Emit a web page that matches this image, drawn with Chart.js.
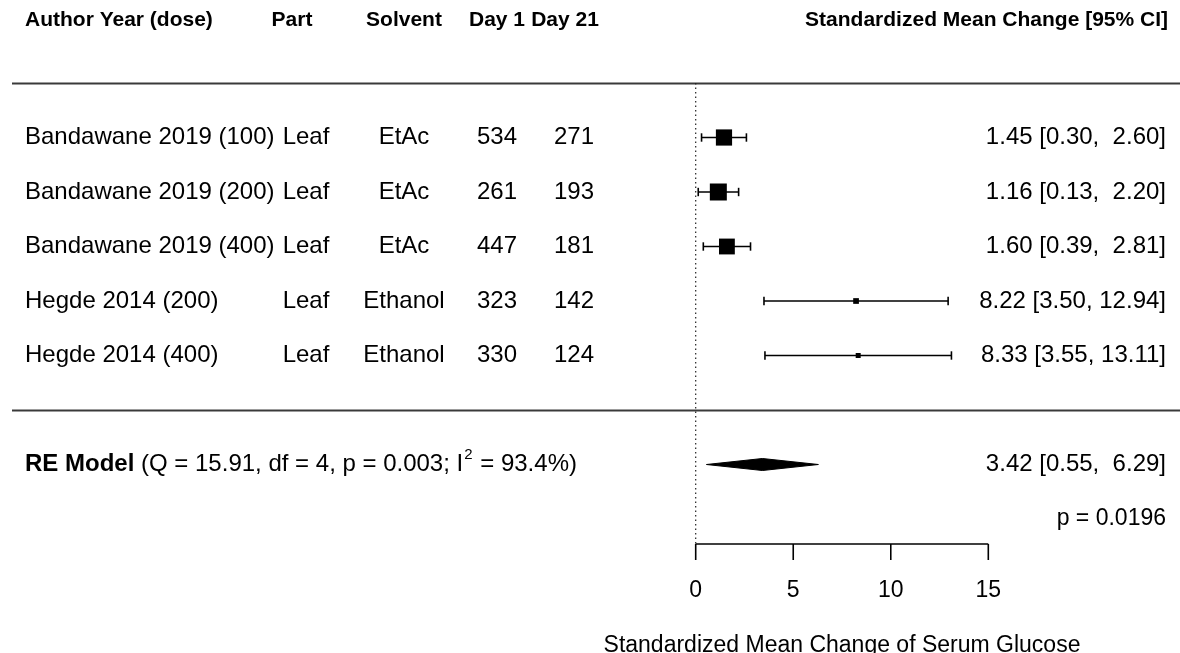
<!DOCTYPE html>
<html><head><meta charset="utf-8">
<script src="https://cdn.jsdelivr.net/npm/chart.js@4.4.0/dist/chart.umd.min.js"></script>
<style>html,body{margin:0;padding:0;background:#fff;overflow:hidden}#wrap{width:1180px;height:653px;position:relative}</style>
</head><body><div id="wrap"><canvas id="c" width="1180" height="653"></canvas></div>
<script>
// ---- data ----
const studies = ["Bandawane 2019 (100)", "Bandawane 2019 (200)", "Bandawane 2019 (400)", "Hegde 2014 (200)", "Hegde 2014 (400)"];
const parts = ["Leaf", "Leaf", "Leaf", "Leaf", "Leaf"];
const solvents = ["EtAc", "EtAc", "EtAc", "Ethanol", "Ethanol"];
const day1 = [534, 261, 447, 323, 330];
const day21 = [271, 193, 181, 142, 124];
const estimates = [1.45, 1.16, 1.60, 8.22, 8.33];
const ciLower = [0.30, 0.13, 0.39, 3.50, 3.55];
const ciUpper = [2.60, 2.20, 2.81, 12.94, 13.11];
const rows = [5, 4, 3, 2, 1];
const reEstimate = 3.42, reLower = 0.55, reUpper = 6.29;
const reQ = "15.91", reDf = "4", reP = "0.003", reI2 = "93.4%";
const pValueLabel = "p = 0.0196";
const xTicks = [0, 5, 10, 15];
const headerLabels = ["Author Year (dose)", "Part", "Solvent", "Day 1", "Day 21", "Standardized Mean Change [95% CI]"];
const xAxisTitle = "Standardized Mean Change of Serum Glucose";

// ---- layout constants ----
const X0PX = 695.7, PXU = 19.507, W = 1180, H = 653;
const Y0PX = 410, PXR = 54.5;
const xMin = -X0PX / PXU, xMax = (W - X0PX) / PXU;
const yMax = Y0PX / PXR, yMin = (Y0PX - H) / PXR;
const FONT = "'Liberation Sans', Arial, Helvetica, sans-serif";
const fmt = v => v.toFixed(2);

// box sizes from inverse standard errors (metafor-style psize)
const se = ciUpper.map((u, i) => (u - ciLower[i]) / 3.92);
const wi = se.map(s => 1 / s);
const wMin = Math.min(...wi), wMax = Math.max(...wi);
const psize = wi.map(w => 0.5 + (w - wMin) / (wMax - wMin));
const boxSide = psize.map(p => 5 + 12 * Math.pow((p - 0.5), 0.5));

const datasets = [];
// reference line at 0
datasets.push({
  data: [{x: 0, y: 6}, {x: 0, y: -2.45}], showLine: true, borderColor: '#222', borderWidth: 1.2,
  borderDash: [1.5, 3], pointRadius: 0, order: 5
});
// CI whiskers
rows.forEach((r, i) => {
  datasets.push({
    data: [{x: ciLower[i], y: r}, {x: ciUpper[i], y: r}], showLine: true,
    borderColor: '#000', borderWidth: 1.6, pointStyle: 'line', rotation: 90,
    pointRadius: 4.2, pointBorderColor: '#000', pointBorderWidth: 1.6, order: 3
  });
});
// point estimates
datasets.push({
  data: rows.map((r, i) => ({x: estimates[i], y: r})), showLine: false,
  pointStyle: 'rect', pointRadius: boxSide.map(s => s / (2 * Math.SQRT1_2)),
  backgroundColor: '#000', borderColor: '#000', borderWidth: 0, order: 1
});
// RE diamond
const dh = 6 / PXR;
datasets.push({
  data: [{x: reLower, y: -1}, {x: reEstimate, y: -1 + dh}, {x: reUpper, y: -1}, {x: reEstimate, y: -1 - dh}, {x: reLower, y: -1}],
  showLine: true, fill: 'shape', backgroundColor: '#000', borderColor: '#000', borderWidth: 1,
  pointRadius: 0, tension: 0, order: 2
});

const forestPlugin = {
  id: 'forest',
  beforeDatasetsDraw(chart) {
    const ctx = chart.ctx, ys = chart.scales.y;
    ctx.save();
    ctx.strokeStyle = '#3a3a3a'; ctx.lineWidth = 2;
    [6, 0].forEach(r => {
      const y = Math.round(ys.getPixelForValue(r)) + 0.5;
      ctx.beginPath(); ctx.moveTo(12, y); ctx.lineTo(W, y); ctx.stroke();
    });
    ctx.restore();
  },
  afterDatasetsDraw(chart) {
    const ctx = chart.ctx, xs = chart.scales.x, ys = chart.scales.y;
    ctx.save();
    ctx.fillStyle = '#000';
    ctx.textBaseline = 'middle';
    // headers
    const hy = ys.getPixelForValue(7.16);
    ctx.font = `bold 21px ${FONT}`;
    ctx.textAlign = 'left'; ctx.fillText(headerLabels[0], 25, hy);
    ctx.textAlign = 'center';
    ctx.fillText(headerLabels[1], 292, hy);
    ctx.fillText(headerLabels[2], 404, hy);
    ctx.fillText(headerLabels[3], 497, hy);
    ctx.fillText(headerLabels[4], 565, hy);
    ctx.textAlign = 'right'; ctx.fillText(headerLabels[5], 1168, hy);
    // study rows
    ctx.font = `24px ${FONT}`;
    rows.forEach((r, i) => {
      const y = ys.getPixelForValue(r);
      ctx.textAlign = 'left'; ctx.fillText(studies[i], 25, y);
      ctx.textAlign = 'center';
      ctx.fillText(parts[i], 306, y);
      ctx.fillText(solvents[i], 404, y);
      ctx.fillText(String(day1[i]), 497, y);
      ctx.fillText(String(day21[i]), 574, y);
      ctx.textAlign = 'right';
      ctx.fillText(`${fmt(estimates[i])} [${fmt(ciLower[i])}, ${ciUpper[i] >= 10 ? '' : ' '}${fmt(ciUpper[i])}]`, 1166, y);
    });
    // RE model row
    const ry = ys.getPixelForValue(-1);
    ctx.textAlign = 'left';
    let x = 25;
    ctx.font = `bold 24px ${FONT}`;
    ctx.fillText('RE Model', x, ry); x += ctx.measureText('RE Model').width;
    ctx.font = `24px ${FONT}`;
    const p1 = ` (Q = ${reQ}, df = ${reDf}, p = ${reP}; I`;
    ctx.fillText(p1, x, ry); x += ctx.measureText(p1).width;
    ctx.font = `15px ${FONT}`;
    ctx.fillText('2', x + 1, ry - 10); x += ctx.measureText('2').width + 2;
    ctx.font = `24px ${FONT}`;
    ctx.fillText(` = ${reI2})`, x, ry);
    ctx.textAlign = 'right';
    ctx.fillText(`${fmt(reEstimate)} [${fmt(reLower)},  ${fmt(reUpper)}]`, 1166, ry);
    ctx.font = `23px ${FONT}`;
    ctx.fillText(pValueLabel, 1166, ys.getPixelForValue(-2));
    // x axis
    const ay = 544;
    const xa = xs.getPixelForValue(xTicks[0]), xb = xs.getPixelForValue(xTicks[xTicks.length - 1]);
    ctx.strokeStyle = '#000'; ctx.lineWidth = 1.6;
    ctx.beginPath(); ctx.moveTo(xa, ay); ctx.lineTo(xb, ay); ctx.stroke();
    ctx.font = `23px ${FONT}`; ctx.textAlign = 'center';
    xTicks.forEach(t => {
      const px = xs.getPixelForValue(t);
      ctx.beginPath(); ctx.moveTo(px, ay); ctx.lineTo(px, ay + 16); ctx.stroke();
      ctx.fillText(String(t), px, 591);
    });
    ctx.font = `23px ${FONT}`;
    ctx.fillText(xAxisTitle, (xa + xb) / 2, 646);
    ctx.restore();
  }
};

new Chart(document.getElementById('c'), {
  type: 'scatter',
  data: {datasets},
  options: {
    responsive: false, animation: false, devicePixelRatio: 1,
    layout: {padding: 0, autoPadding: false},
    plugins: {legend: {display: false}, tooltip: {enabled: false}},
    scales: {
      x: {type: 'linear', min: xMin, max: xMax, display: false},
      y: {type: 'linear', min: yMin, max: yMax, display: false}
    }
  },
  plugins: [forestPlugin]
});
</script></body></html>
